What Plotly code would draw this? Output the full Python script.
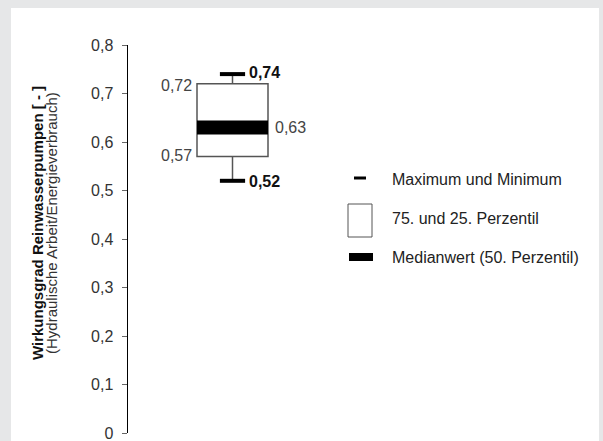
import plotly.graph_objects as go

# ---- data ----
categories = ["Reinwasserpumpen"]
q1_values = [0.57]
median_values = [0.63]
q3_values = [0.72]
min_values = [0.52]
max_values = [0.74]
tick_values = [0, 0.1, 0.2, 0.3, 0.4, 0.5, 0.6, 0.7, 0.8]
tick_labels = ["0", "0,1", "0,2", "0,3", "0,4", "0,5", "0,6", "0,7", "0,8"]
legend_labels = ["Maximum und Minimum", "75. und 25. Perzentil", "Medianwert (50. Perzentil)"]
y_title_main = "Wirkungsgrad Reinwasserpumpen [ - ]"
y_title_sub = "(Hydraulische Arbeit/Energieverbrauch)"

FONT = "Liberation Sans, Arial, Helvetica, sans-serif"
W, H = 603, 441
ML, MR, MT, MB = 128, 4, 45, 8
PW, PH = W - ML - MR, H - MT - MB

def fmt(v):
    return f"{v:.2f}".replace(".", ",")

def px_x(p):
    return (p - ML) / PW

def px_y(p):
    return (H - MB - p) / PH

box_w = 0.71
xpos = [0]
med_half = 0.0145

fig = go.Figure()
# box (75./25. percentile)
fig.add_trace(go.Bar(
    x=xpos, base=q1_values, y=[b - a for a, b in zip(q1_values, q3_values)],
    width=box_w, marker=dict(color="white", line=dict(color="#555555", width=1.5)),
    showlegend=False, hoverinfo="skip"))
# whiskers
for i, x in enumerate(xpos):
    fig.add_trace(go.Scatter(x=[x, x], y=[q3_values[i], max_values[i]], mode="lines",
                             line=dict(color="#555555", width=1.5), showlegend=False, hoverinfo="skip"))
    fig.add_trace(go.Scatter(x=[x, x], y=[q1_values[i], min_values[i]], mode="lines",
                             line=dict(color="#555555", width=1.5), showlegend=False, hoverinfo="skip"))
# median bar
fig.add_trace(go.Bar(
    x=xpos, base=[m - med_half for m in median_values], y=[2 * med_half for _ in median_values],
    width=box_w, marker=dict(color="black", line=dict(width=0)),
    showlegend=False, hoverinfo="skip"))
# caps
fig.add_trace(go.Scatter(
    x=xpos + xpos, y=max_values + min_values, mode="markers",
    marker=dict(symbol="line-ew", size=18, line=dict(color="black", width=4)),
    showlegend=False, hoverinfo="skip"))

LBL = 16
annotations = []
for i, x in enumerate(xpos):
    annotations += [
        dict(x=x - box_w / 2, y=q3_values[i], text=fmt(q3_values[i]), xanchor="right", xshift=-3, yshift=-2,
             font=dict(color="#444444", size=LBL)),
        dict(x=x - box_w / 2, y=q1_values[i], text=fmt(q1_values[i]), xanchor="right", xshift=-3, yshift=1,
             font=dict(color="#444444", size=LBL)),
        dict(x=x + box_w / 2, y=median_values[i], text=fmt(median_values[i]), xanchor="left", xshift=5,
             font=dict(color="#444444", size=LBL)),
        dict(x=x, y=max_values[i], text="<b>" + fmt(max_values[i]) + "</b>", xanchor="left", xshift=14, yshift=2,
             font=dict(color="#111111", size=LBL)),
        dict(x=x, y=min_values[i], text="<b>" + fmt(min_values[i]) + "</b>", xanchor="left", xshift=14, yshift=-1,
             font=dict(color="#111111", size=LBL)),
    ]
for a in annotations:
    a.update(xref="x", yref="y", showarrow=False, yanchor="middle")

# y axis title (two lines)
annotations.append(dict(xref="paper", yref="paper", x=px_x(37), y=px_y(223), text="<b>" + y_title_main + "</b>",
                        textangle=-90, showarrow=False, xanchor="center", yanchor="middle",
                        font=dict(size=15, color="#111111")))
annotations.append(dict(xref="paper", yref="paper", x=px_x(51), y=px_y(223), text=y_title_sub,
                        textangle=-90, showarrow=False, xanchor="center", yanchor="middle",
                        font=dict(size=15, color="#333333")))

# legend texts
for lbl, py in zip(legend_labels, [179, 219, 257]):
    annotations.append(dict(xref="paper", yref="paper", x=px_x(390), y=px_y(py), text=lbl,
                            showarrow=False, xanchor="left", yanchor="middle",
                            font=dict(size=LBL, color="#222222")))

shapes = [
    # white panel over gray frame
    dict(type="rect", xref="paper", yref="paper", x0=px_x(11), x1=px_x(599), y0=px_y(H + 5), y1=px_y(8),
         fillcolor="white", line=dict(width=0), layer="below"),
    # legend symbols
    dict(type="line", xref="paper", yref="paper", x0=px_x(354), x1=px_x(366), y0=px_y(178), y1=px_y(178),
         line=dict(color="black", width=3)),
    dict(type="rect", xref="paper", yref="paper", x0=px_x(348), x1=px_x(372), y0=px_y(204), y1=px_y(237),
         fillcolor="white", line=dict(color="#555555", width=1)),
    dict(type="rect", xref="paper", yref="paper", x0=px_x(349), x1=px_x(373), y0=px_y(253), y1=px_y(261),
         fillcolor="black", line=dict(width=0)),
]

fig.update_layout(
    width=W, height=H, margin=dict(l=ML, r=MR, t=MT, b=MB, pad=0, autoexpand=False),
    paper_bgcolor="#e6e7e8", plot_bgcolor="rgba(0,0,0,0)",
    font=dict(family=FONT, size=LBL, color="#333333"),
    barmode="overlay", showlegend=False,
    xaxis=dict(visible=False, range=[-1.045, 3.665], fixedrange=True, automargin=False),
    yaxis=dict(range=[0, 0.8], tickvals=tick_values, ticktext=tick_labels,
               showline=True, linecolor="black", linewidth=1.5, ticks="outside", ticklen=5,
               tickcolor="#666666", tickwidth=1, showgrid=False, zeroline=False,
               tickfont=dict(size=LBL, color="#333333"), ticklabelstandoff=5,
               ticklabeloverflow="allow", fixedrange=True, automargin=False),
    annotations=annotations, shapes=shapes,
)

fig.write_html(
    "out.html",
    config={"displayModeBar": False, "staticPlot": True},
    post_script="document.body.style.margin='0';document.body.style.padding='0';document.body.style.overflow='hidden';",
)
